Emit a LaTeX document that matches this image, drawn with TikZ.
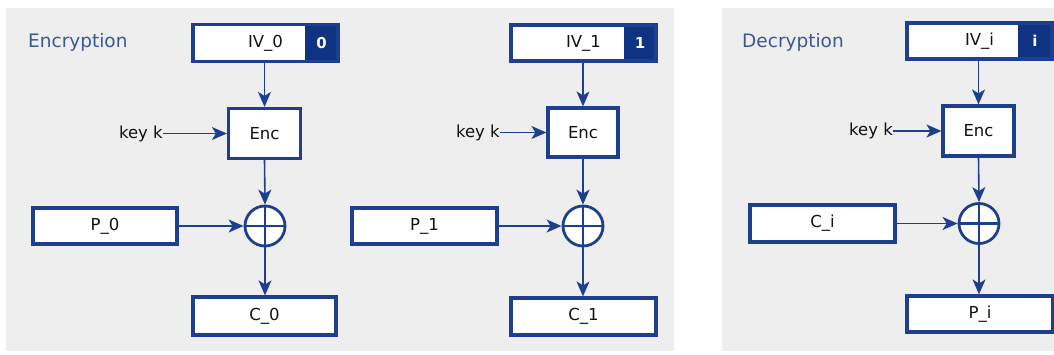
\documentclass[tikz,border=0pt]{standalone}
\usepackage{fontspec}
\setmainfont{DejaVu Sans}
\usetikzlibrary{arrows.meta,calc}
\definecolor{navy}{HTML}{1E3F8E}
\definecolor{darkfill}{HTML}{0F3383}
\definecolor{bggray}{HTML}{EEEEEE}
\definecolor{titleblue}{HTML}{3B5891}
\definecolor{txt}{HTML}{111111}
\tikzset{
  panel/.style={fill=bggray, draw=none},
  blockbox/.style={draw=navy, line width=3.2pt, fill=white, inner sep=0pt, font=\fontsize{16.5}{19}\selectfont, text=txt},
  xorop/.style={circle, draw=navy, line width=2.8pt, fill=white, minimum size=40pt, inner sep=0pt,
    path picture={\draw[navy, line width=2.4pt] (path picture bounding box.north) -- (path picture bounding box.south)
      (path picture bounding box.west) -- (path picture bounding box.east);}},
  flow/.style={draw=navy, line width=1.6pt, -{Stealth[length=15pt,width=13pt,inset=4pt]}},
  keylabel/.style={anchor=east, inner sep=0pt, font=\fontsize{16.5}{19}\selectfont, text=txt},
  titlelabel/.style={anchor=west, inner sep=0pt, font=\fontsize{18.5}{22}\selectfont, text=titleblue},
  idxlabel/.style={inner sep=0pt, font=\bfseries\fontsize{15}{17}\selectfont, text=white}
}
\begin{document}
\begin{tikzpicture}[x=1pt,y=-1pt]
\useasboundingbox (0,0) rectangle (1054,354);
\fill[bggray] (6,8) rectangle (674,351);
\fill[bggray] (722,8) rectangle (1054,351);

\node[titlelabel] (tenc) at (28,42) {Encryption};
\node[titlelabel] (tdec) at (742,42) {Decryption};

% ---- block 0
\node[blockbox, minimum width=145pt, minimum height=37pt] (iv0) at (265.5,43) {IV\_0};
\fill[darkfill] (305,24.5) rectangle (338,61.5);
\draw[navy, line width=3.2pt] (193,24.5) rectangle (338,61.5);
\node[idxlabel] (n0) at (321.5,43) {0};
\node[blockbox, minimum width=72pt, minimum height=50pt] (enc0) at (264.5,133.5) {Enc};
\node[xorop] (xor0) at (265,226) {};
\node[blockbox, minimum width=144pt, minimum height=36pt] (p0) at (105,226) {P\_0};
\node[blockbox, minimum width=143pt, minimum height=38pt] (c0) at (264.5,316) {C\_0};
\node[keylabel] (k0) at (163,133.5) {key k};
\draw[flow] (iv0.south -| enc0.north) -- (enc0.north);
\draw[flow] (k0.east) -- (enc0.west);
\draw[flow] (enc0.south) -- (xor0.north);
\draw[flow] (p0.east) -- (xor0.west);
\draw[flow] (xor0.south) -- (c0.north -| xor0.south);

% ---- block 1
\node[blockbox, minimum width=145pt, minimum height=36pt] (iv1) at (583.5,43) {IV\_1};
\fill[darkfill] (624,25) rectangle (656,61);
\draw[navy, line width=3.2pt] (511,25) rectangle (656,61);
\node[idxlabel] (n1) at (640,43) {1};
\node[blockbox, minimum width=70pt, minimum height=49pt] (enc1) at (583,132.5) {Enc};
\node[xorop] (xor1) at (583,226) {};
\node[blockbox, minimum width=145pt, minimum height=36pt] (p1) at (424.5,226) {P\_1};
\node[blockbox, minimum width=145pt, minimum height=37pt] (c1) at (583.5,316.5) {C\_1};
\node[keylabel] (k1) at (500,132.5) {key k};
\draw[flow] (iv1.south -| enc1.north) -- (enc1.north);
\draw[flow] (k1.east) -- (enc1.west);
\draw[flow] (enc1.south) -- (xor1.north);
\draw[flow] (p1.east) -- (xor1.west);
\draw[flow] (xor1.south) -- (c1.north -| xor1.south);

% ---- decryption
\node[blockbox, minimum width=145pt, minimum height=36pt] (ivi) at (979.5,41) {IV\_i};
\fill[darkfill] (1018,23) rectangle (1052,59);
\draw[navy, line width=3.2pt] (907,23) rectangle (1052,59);
\node[idxlabel] (ni) at (1035,41) {i};
\node[blockbox, minimum width=71pt, minimum height=50pt] (enci) at (978.5,131) {Enc};
\node[xorop] (xori) at (979,223.5) {};
\node[blockbox, minimum width=145pt, minimum height=37pt] (ci) at (822.5,223.5) {C\_i};
\node[blockbox, minimum width=146pt, minimum height=36pt] (pi) at (980,314) {P\_i};
\node[keylabel] (ki) at (893,131) {key k};
\draw[flow] (ivi.south -| enci.north) -- (enci.north);
\draw[flow] (ki.east) -- (enci.west);
\draw[flow] (enci.south) -- (xori.north);
\draw[flow] (ci.east) -- (xori.west);
\draw[flow] (xori.south) -- (pi.north -| xori.south);
\end{tikzpicture}
\end{document}
